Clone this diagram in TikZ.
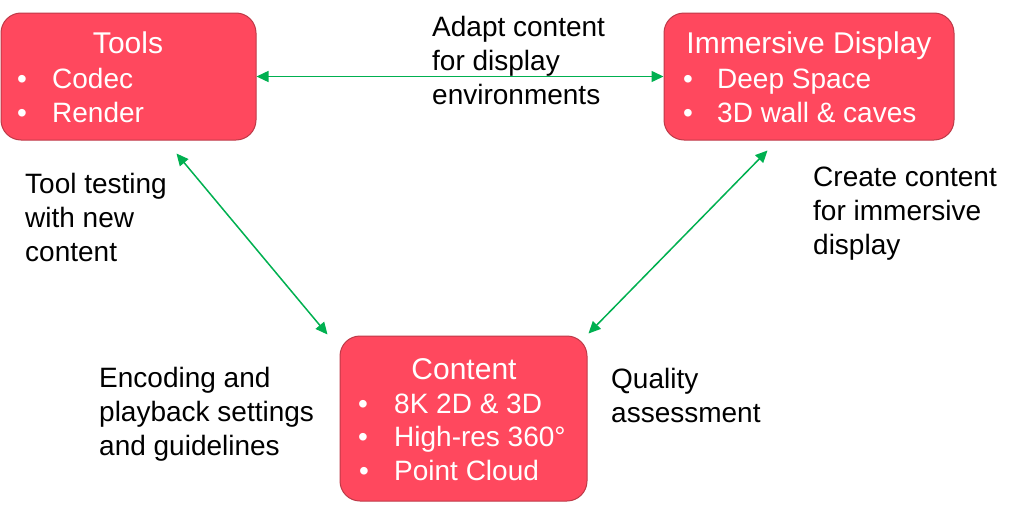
\documentclass[tikz,border=0pt]{standalone}
\usepackage{fontspec}
\setmainfont{Liberation Sans}
\usetikzlibrary{arrows.meta}
\definecolor{boxred}{RGB}{255,72,94}
\definecolor{boxedge}{RGB}{190,58,72}
\definecolor{linkgreen}{RGB}{0,176,80}
\tikzset{
  block/.style={draw=boxedge, fill=boxred, rounded corners=20pt, line width=1pt, inner sep=0pt},
  txt/.style={font=\fontsize{28}{34}\selectfont, inner sep=0pt},
  head/.style={txt, font=\fontsize{30}{34}\selectfont, text=white, anchor=base},
  item/.style={txt, text=white, anchor=base west},
  dot/.style={txt, text=white, anchor=base},
  note/.style={txt, text=black, align=left, anchor=base west},
  link/.style={draw=linkgreen, line width=1.5pt,
    {Triangle[length=12pt,width=11pt]}-{Triangle[length=12pt,width=11pt]}}
}
\begin{document}
\begin{tikzpicture}[x=1pt,y=-1pt]
      \useasboundingbox (0,0) rectangle (1024,506);
      % boxes
      \node[block, minimum width=255pt, minimum height=127pt] (tools) at (128.5,76.5) {};
      \node[block, minimum width=290pt, minimum height=127pt] (display) at (809,76.5) {};
      \node[block, minimum width=247pt, minimum height=165pt] (content) at (463.5,418.5) {};
      % tools
      \node[head] (toolsT) at (128,53) {Tools};
      \node[dot] (toolsB1) at (22,88) {•};
      \node[item] (toolsI1) at (52,88) {Codec};
      \node[dot] (toolsB2) at (22,122) {•};
      \node[item] (toolsI2) at (52,122) {Render};
      % immersive display
      \node[head] (displayT) at (809,53) {Immersive Display};
      \node[dot] (displayB1) at (688,88) {•};
      \node[item] (displayI1) at (717,88) {Deep Space};
      \node[dot] (displayB2) at (688,122) {•};
      \node[item] (displayI2) at (717,122) {3D wall \& caves};
      % content
      \node[head] (contentT) at (464,379) {Content};
      \node[dot] (contentB1) at (363,413) {•};
      \node[item] (contentI1) at (394,413) {8K 2D \& 3D};
      \node[dot] (contentB2) at (363,446) {•};
      \node[item] (contentI2) at (394,446) {High-res 360°};
      \node[dot] (contentB3) at (364,480) {•};
      \node[item] (contentI3) at (394,480) {Point Cloud};
      % labels (base = last line)
      \node[note] (adapt) at (432,104) {Adapt content\\for display\\environments};
      \node[note] (testing) at (25,261) {Tool testing\\with new\\content};
      \node[note] (create) at (813,254) {Create content\\for immersive\\display};
      \node[note] (encoding) at (99,455) {Encoding and\\playback settings\\and guidelines};
      \node[note] (quality) at (611,422) {Quality\\assessment};
      % links
      \draw[link] (tools.east) -- (display.west);
      \draw[link] ([shift={(-80,13)}]tools.south east) -- ([shift={(-12,-1)}]content.north west);
      \draw[link] ([shift={(104,10)}]display.south west) -- ([shift={(1,-2)}]content.north east);
\end{tikzpicture}
\end{document}
